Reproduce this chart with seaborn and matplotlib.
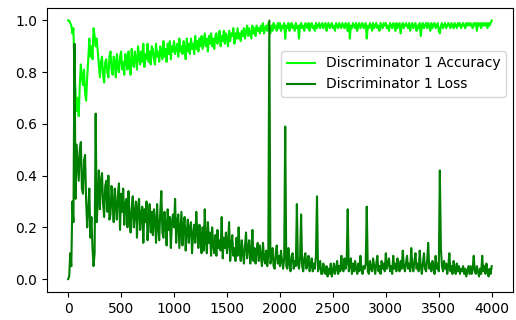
import numpy as np
import pandas as pd
import seaborn as sns
import matplotlib
matplotlib.use("Agg")
import matplotlib.pyplot as plt

# valores, uno cada 10 pasos (0..4000), 20 por fila
acc = [
    1.00, 1.00, 0.99, 0.98, 0.95, 0.97, 0.80, 0.72, 0.65, 0.70, 0.63, 0.75, 0.83, 0.78, 0.75, 0.81, 0.72, 0.69, 0.78, 0.85,
    0.93, 0.86, 0.90, 0.85, 0.97, 0.94, 0.90, 0.93, 0.88, 0.83, 0.78, 0.84, 0.86, 0.79, 0.76, 0.84, 0.85, 0.80, 0.78, 0.86,
    0.88, 0.81, 0.79, 0.86, 0.84, 0.78, 0.87, 0.82, 0.80, 0.86, 0.88, 0.81, 0.84, 0.79, 0.87, 0.85, 0.81, 0.88, 0.83, 0.79,
    0.89, 0.84, 0.82, 0.88, 0.85, 0.81, 0.90, 0.86, 0.83, 0.88, 0.84, 0.91, 0.82, 0.87, 0.85, 0.91, 0.84, 0.88, 0.83, 0.90,
    0.89, 0.85, 0.83, 0.91, 0.86, 0.88, 0.84, 0.90, 0.87, 0.85, 0.92, 0.86, 0.89, 0.84, 0.91, 0.87, 0.92, 0.85, 0.90, 0.88,
    0.92, 0.87, 0.89, 0.91, 0.86, 0.93, 0.88, 0.90, 0.87, 0.92, 0.89, 0.85, 0.93, 0.88, 0.91, 0.87, 0.93, 0.89, 0.91, 0.87,
    0.94, 0.89, 0.92, 0.88, 0.93, 0.90, 0.94, 0.89, 0.92, 0.95, 0.90, 0.93, 0.88, 0.94, 0.91, 0.95, 0.90, 0.93, 0.89, 0.94,
    0.95, 0.91, 0.93, 0.96, 0.90, 0.94, 0.92, 0.96, 0.91, 0.95, 0.93, 0.90, 0.96, 0.92, 0.95, 0.94, 0.97, 0.91, 0.95, 0.93,
    0.97, 0.93, 0.95, 0.92, 0.96, 0.94, 0.97, 0.93, 0.96, 0.98, 0.94, 0.97, 0.95, 0.93, 0.98, 0.95, 0.97, 0.94, 0.98, 0.96,
    0.97, 0.95, 0.98, 0.96, 0.99, 0.95, 0.97, 0.98, 0.96, 0.99, 0.97, 0.95, 0.98, 0.96, 0.99, 0.97, 0.98, 0.96, 0.99, 0.97,
    0.99, 0.96, 0.98, 0.97, 0.99, 0.93, 0.98, 0.97, 0.99, 0.96, 0.98, 0.99, 0.97, 0.98, 0.96, 0.99, 0.97, 0.98, 0.93, 0.98,
    0.99, 0.97, 0.98, 0.96, 0.99, 0.98, 0.97, 0.99, 0.96, 0.98, 0.99, 0.97, 0.98, 0.96, 0.99, 0.97, 0.98, 0.99, 0.97, 0.98,
    0.99, 0.97, 0.98, 0.99, 0.96, 0.98, 0.99, 0.97, 0.98, 0.99, 0.97, 0.98, 0.96, 0.99, 0.98, 0.97, 0.99, 0.98, 0.97, 0.99,
    0.98, 0.97, 0.99, 0.98, 0.96, 0.99, 0.93, 0.98, 0.97, 0.99, 0.98, 0.97, 0.99, 0.96, 0.98, 0.99, 0.97, 0.98, 0.99, 0.97,
    0.98, 0.99, 0.93, 0.98, 0.97, 0.99, 0.98, 0.96, 0.99, 0.97, 0.98, 0.99, 0.97, 0.98, 0.96, 0.99, 0.98, 0.97, 0.99, 0.98,
    0.99, 0.97, 0.98, 0.96, 0.99, 0.98, 0.97, 0.99, 0.98, 0.96, 0.99, 0.97, 0.98, 0.99, 0.95, 0.98, 0.99, 0.97, 0.98, 0.99,
    0.98, 0.97, 0.99, 0.96, 0.98, 0.99, 0.97, 0.98, 0.99, 0.96, 0.98, 0.97, 0.99, 0.94, 0.98, 0.99, 0.97, 0.98, 0.99, 0.97,
    0.99, 0.98, 0.96, 0.99, 0.97, 0.98, 0.99, 0.97, 0.98, 0.99, 0.96, 0.95, 0.98, 0.99, 0.97, 0.98, 0.99, 0.97, 0.98, 0.99,
    0.98, 0.97, 0.99, 0.98, 0.97, 0.99, 0.98, 0.97, 0.99, 0.98, 0.99, 0.97, 0.98, 0.99, 0.98, 0.97, 0.99, 0.98, 0.99, 0.98,
    0.99, 0.98, 0.97, 0.99, 0.98, 0.99, 0.96, 0.99, 0.98, 0.99, 0.97, 0.99, 0.98, 0.99, 0.98, 0.99, 0.97, 0.99, 0.98, 0.99,
    1.00,
]

loss = [
    0.00, 0.01, 0.10, 0.05, 0.30, 0.22, 0.91, 0.31, 0.52, 0.45, 0.38, 0.50, 0.53, 0.35, 0.33, 0.46, 0.48, 0.30, 0.20, 0.27,
    0.35, 0.16, 0.24, 0.12, 0.05, 0.10, 0.64, 0.22, 0.30, 0.42, 0.27, 0.38, 0.41, 0.29, 0.24, 0.36, 0.38, 0.26, 0.40, 0.23,
    0.25, 0.36, 0.30, 0.22, 0.35, 0.28, 0.23, 0.33, 0.37, 0.19, 0.33, 0.26, 0.35, 0.21, 0.29, 0.31, 0.20, 0.34, 0.24, 0.18,
    0.27, 0.32, 0.20, 0.26, 0.30, 0.16, 0.28, 0.31, 0.19, 0.25, 0.28, 0.14, 0.27, 0.22, 0.30, 0.15, 0.24, 0.29, 0.18, 0.26,
    0.17, 0.27, 0.23, 0.14, 0.29, 0.20, 0.15, 0.26, 0.34, 0.18, 0.16, 0.26, 0.21, 0.13, 0.27, 0.19, 0.24, 0.12, 0.22, 0.25,
    0.20, 0.31, 0.14, 0.22, 0.25, 0.12, 0.19, 0.26, 0.13, 0.21, 0.24, 0.11, 0.18, 0.23, 0.14, 0.20, 0.22, 0.10, 0.17, 0.21,
    0.14, 0.26, 0.18, 0.12, 0.21, 0.16, 0.10, 0.20, 0.11, 0.27, 0.15, 0.10, 0.22, 0.14, 0.18, 0.09, 0.20, 0.13, 0.10, 0.17,
    0.09, 0.19, 0.12, 0.15, 0.11, 0.24, 0.08, 0.16, 0.12, 0.18, 0.10, 0.14, 0.22, 0.07, 0.13, 0.17, 0.09, 0.12, 0.07, 0.16,
    0.09, 0.20, 0.11, 0.07, 0.15, 0.10, 0.06, 0.13, 0.18, 0.08, 0.12, 0.15, 0.06, 0.10, 0.19, 0.07, 0.12, 0.06, 0.11, 0.14,
    0.07, 0.13, 0.09, 0.05, 0.14, 0.08, 0.06, 0.11, 0.05, 0.09, 1.00, 0.06, 0.08, 0.12, 0.05, 0.04, 0.10, 0.13, 0.06, 0.09,
    0.05, 0.11, 0.07, 0.04, 0.08, 0.59, 0.05, 0.04, 0.12, 0.06, 0.03, 0.09, 0.10, 0.04, 0.07, 0.05, 0.29, 0.06, 0.04, 0.08,
    0.25, 0.05, 0.03, 0.08, 0.10, 0.04, 0.06, 0.09, 0.03, 0.05, 0.08, 0.03, 0.06, 0.04, 0.09, 0.32, 0.03, 0.05, 0.07, 0.02,
    0.02, 0.06, 0.03, 0.02, 0.05, 0.01, 0.04, 0.02, 0.06, 0.01, 0.03, 0.06, 0.02, 0.04, 0.07, 0.02, 0.05, 0.03, 0.09, 0.04,
    0.03, 0.08, 0.04, 0.06, 0.27, 0.03, 0.05, 0.08, 0.02, 0.06, 0.03, 0.07, 0.04, 0.02, 0.06, 0.03, 0.09, 0.04, 0.02, 0.05,
    0.04, 0.06, 0.28, 0.03, 0.02, 0.07, 0.04, 0.03, 0.08, 0.05, 0.02, 0.06, 0.09, 0.03, 0.05, 0.02, 0.07, 0.04, 0.06, 0.03,
    0.10, 0.04, 0.06, 0.08, 0.03, 0.05, 0.02, 0.09, 0.04, 0.06, 0.03, 0.08, 0.05, 0.03, 0.07, 0.04, 0.11, 0.05, 0.03, 0.06,
    0.09, 0.04, 0.06, 0.03, 0.12, 0.05, 0.03, 0.07, 0.10, 0.04, 0.06, 0.03, 0.11, 0.05, 0.02, 0.06, 0.10, 0.04, 0.03, 0.07,
    0.14, 0.04, 0.06, 0.03, 0.07, 0.05, 0.02, 0.09, 0.04, 0.06, 0.03, 0.42, 0.12, 0.05, 0.03, 0.07, 0.04, 0.06, 0.02, 0.05,
    0.10, 0.03, 0.05, 0.02, 0.07, 0.04, 0.02, 0.06, 0.03, 0.05, 0.02, 0.04, 0.03, 0.05, 0.02, 0.04, 0.01, 0.03, 0.05, 0.02,
    0.05, 0.02, 0.04, 0.09, 0.03, 0.02, 0.05, 0.03, 0.01, 0.04, 0.02, 0.09, 0.03, 0.05, 0.02, 0.06, 0.03, 0.01, 0.04, 0.02,
    0.05,
]

steps = list(range(0, 4001, 10))

df = pd.DataFrame({"step": steps, "acc": acc, "loss": loss})

fig = plt.figure(figsize=(5.16, 3.2), dpi=100)
ax = fig.add_axes([0.091, 0.0875, 0.903, 0.889])

sns.lineplot(data=df, x="step", y="acc", color="lime", linewidth=1.5,
             estimator=None, label="Discriminator 1 Accuracy", ax=ax)
sns.lineplot(data=df, x="step", y="loss", color="green", linewidth=1.5,
             estimator=None, label="Discriminator 1 Loss", ax=ax)

ax.set_xlabel("")
ax.set_ylabel("")
ax.set_xticks([0, 500, 1000, 1500, 2000, 2500, 3000, 3500, 4000])
ax.set_yticks([0.0, 0.2, 0.4, 0.6, 0.8, 1.0])
ax.set_xlim(-200, 4200)
ax.set_ylim(-0.05, 1.05)
ax.legend(loc="upper right", bbox_to_anchor=(1, 0.872))

fig.savefig("out.png", dpi=100)
